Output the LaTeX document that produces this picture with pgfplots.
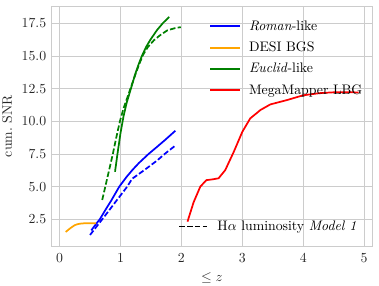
\documentclass[border=0pt]{standalone}
\usepackage{pgfplots}
\pgfplotsset{compat=1.18}
\definecolor{gridc}{gray}{0.8}
\definecolor{txt}{gray}{0.15}
\definecolor{mplorange}{RGB}{255,165,0}
\definecolor{mplgreen}{RGB}{0,128,0}
\begin{document}
\begin{tikzpicture}
\pgfplotsset{
  common/.style={scale only axis, width=233pt, height=174pt,
    xmin=-0.14, xmax=5.14, ymin=0.44, ymax=18.84},
}
\begin{axis}[common,
  axis line style={gridc}, grid=major, grid style={gridc, line width=0.6pt},
  major tick length=0pt,
  xtick={0,1,2,3,4,5}, ytick={2.5,5,...,17.5},
  yticklabel style={/pgf/number format/fixed, /pgf/number format/fixed zerofill, /pgf/number format/precision=1},
  xticklabel style={yshift=-1.5pt},
  ticklabel style={text=txt}, label style={text=txt},
  xlabel={$\leq z$}, ylabel={cum.\ SNR},
  xlabel style={yshift=-1pt},
  legend style={at={(rel axis cs:0.99,0.964)}, anchor=north east, draw=none, fill=none, row sep=3pt,
    /tikz/every odd column/.append style={column sep=4pt}},
  legend cell align=left,
  legend image code/.code={\draw[line width=1.4pt] plot coordinates {(0pt,0pt)(10.75pt,0pt)(21.5pt,0pt)};},
]
\addlegendimage{blue}
\addlegendentry{\textit{Roman}-like}
\addlegendimage{mplorange}
\addlegendentry{DESI BGS}
\addlegendimage{mplgreen}
\addlegendentry{\textit{Euclid}-like}
\addlegendimage{red}
\addlegendentry{MegaMapper LBG}
% Roman-like
\addplot[blue, line width=1.25pt, forget plot] coordinates {(0.52,1.65)(0.6,2.15)(0.66,2.5)(0.75,3.2)(0.85,3.95)(0.98,5.0)(1.1,5.75)(1.2,6.3)(1.3,6.8)(1.46,7.5)(1.6,8.05)(1.73,8.57)(1.9,9.28)};
\addplot[blue, line width=1.25pt, dash pattern=on 4pt off 1.7pt, forget plot] coordinates {(0.5,1.3)(0.6,1.9)(0.7,2.5)(0.8,3.1)(0.9,3.72)(1.0,4.33)(1.11,5.0)(1.19,5.6)(1.25,5.8)(1.4,6.3)(1.6,7.0)(1.75,7.6)(1.91,8.18)};
% DESI BGS
\addplot[mplorange, line width=1.25pt, forget plot] coordinates {(0.1,1.53)(0.15,1.72)(0.2,1.9)(0.25,2.05)(0.3,2.13)(0.35,2.17)(0.4,2.19)(0.5,2.2)(0.6,2.2)};
% Euclid-like
\addplot[mplgreen, line width=1.25pt, forget plot] coordinates {(0.91,6.14)(0.95,7.5)(1.0,9.1)(1.05,10.4)(1.1,11.4)(1.17,12.5)(1.24,13.6)(1.3,14.4)(1.35,15.0)(1.42,15.7)(1.49,16.25)(1.6,17.0)(1.7,17.55)(1.8,18.0)};
\addplot[mplgreen, line width=1.25pt, dash pattern=on 4pt off 1.7pt, forget plot] coordinates {(0.7,3.98)(0.8,6.0)(0.874,7.5)(0.93,8.75)(0.99,10.0)(1.05,11.0)(1.11,11.8)(1.17,12.6)(1.23,13.4)(1.3,14.3)(1.37,15.1)(1.45,15.7)(1.55,16.22)(1.65,16.6)(1.77,16.98)(1.9,17.15)(1.99,17.22)};
% MegaMapper LBG
\addplot[red, line width=1.25pt, forget plot] coordinates {(2.1,2.32)(2.2,3.8)(2.31,5.0)(2.41,5.5)(2.5,5.55)(2.61,5.64)(2.72,6.27)(2.86,7.67)(3.0,9.2)(3.13,10.23)(3.3,10.88)(3.46,11.3)(3.73,11.63)(4.0,12.0)(4.28,12.17)(4.55,12.24)(4.91,12.22)};
\end{axis}
\begin{axis}[common, hide axis,
  legend style={at={(rel axis cs:0.972,0.0335)}, anchor=south east, draw=none, fill=none,
    /tikz/every odd column/.append style={column sep=5pt}},
  legend cell align=left,
  legend image code/.code={\draw[line width=1.4pt] plot coordinates {(0pt,0pt)(10pt,0pt)(20pt,0pt)};},
]
\addlegendimage{black, dash pattern=on 4pt off 1.7pt}
\addlegendentry{H$\alpha$ luminosity \textit{Model 1}}
\end{axis}
\pgfresetboundingbox
\path[use as bounding box] ([shift={(-37pt,-28.3pt)}]current axis.south west) rectangle ([shift={(4.6pt,4.35pt)}]current axis.north east);
\end{tikzpicture}
\end{document}
